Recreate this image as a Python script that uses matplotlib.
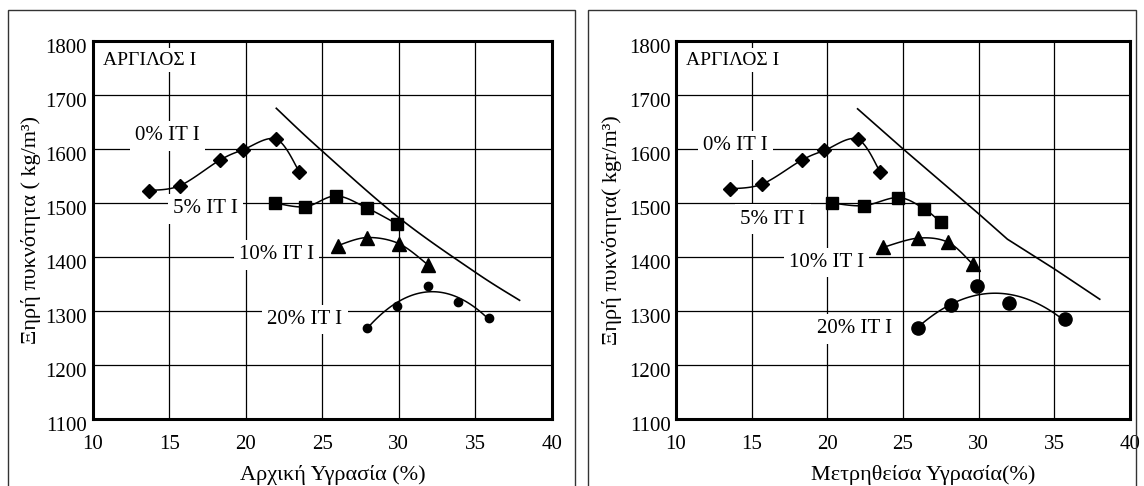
import numpy as np
import matplotlib.pyplot as plt
from matplotlib.patches import Rectangle
from matplotlib.transforms import ScaledTranslation

plt.rcParams['font.family'] = ['Liberation Serif', 'DejaVu Serif']

series_names = ['0% IT I', '5% IT I', '10% IT I', '20% IT I']
series_marks = ['D', 's', '^', 'o']

# initial moisture (%) / dry density (kg/m3)
w_init = [
    [13.7, 15.7, 18.3, 19.8, 22.0, 23.5],
    [21.9, 23.9, 25.9, 27.9, 29.9],
    [26.0, 27.9, 30.0, 31.9],
    [27.9, 29.9, 31.9, 33.9, 35.9],
]
d_init = [
    [1523, 1532, 1579, 1598, 1618, 1558],
    [1500, 1493, 1513, 1491, 1461],
    [1421, 1436, 1425, 1386],
    [1268, 1310, 1347, 1316, 1287],
]
zav_init_w = [22.0, 24.8, 30.0, 35.0, 37.9]
zav_init_d = [1675, 1601, 1473, 1372, 1320]

# measured moisture (%) / dry density (kgr/m3)
w_meas = [
    [13.6, 15.7, 18.3, 19.8, 22.0, 23.5],
    [20.3, 22.4, 24.7, 26.4, 27.5],
    [23.7, 26.0, 28.0, 29.6],
    [26.0, 28.2, 29.9, 32.0, 35.7],
]
d_meas = [
    [1526, 1535, 1579, 1597, 1618, 1557],
    [1500, 1495, 1510, 1489, 1464],
    [1418, 1435, 1427, 1387],
    [1268, 1311, 1347, 1315, 1285],
]
zav_meas_w = [22.0, 25.0, 30.0, 31.9, 35.0, 38.0]
zav_meas_d = [1674, 1600, 1480, 1433, 1378, 1322]

x_ticks = [10, 15, 20, 25, 30, 35, 40]
y_ticks = [1100, 1200, 1300, 1400, 1500, 1600, 1700, 1800]


def smooth(x, y, n=25):
    # bezier smoothing through the points (spreadsheet style)
    p = np.column_stack([x, y]).astype(float)
    p = np.vstack([p[0], p, p[-1]])
    out = [p[1]]
    t = np.linspace(0, 1, n)[1:, None]
    for i in range(1, len(p) - 2):
        p0, p1, p2, p3 = p[i - 1], p[i], p[i + 1], p[i + 2]
        c1 = p1 + (p2 - p0) / 6
        c2 = p2 - (p3 - p1) / 6
        seg = (1 - t)**3 * p1 + 3 * (1 - t)**2 * t * c1 + 3 * (1 - t) * t**2 * c2 + t**3 * p2
        out.extend(seg)
    out = np.array(out)
    return out[:, 0], out[:, 1]


def panel(ax, ws, ds, zw, zd, sizes, label_pos, xlabel, ylabel, xlab_x, ylab_x, zav_smooth):
    ax.set_xlim(10, 40)
    ax.set_ylim(1100, 1800)
    ax.set_xticks(x_ticks)
    ax.set_yticks(y_ticks)
    ax.grid(True, color='black', lw=0.9)
    ax.set_axisbelow(True)
    for s in ax.spines.values():
        s.set_linewidth(2.2)
    ax.tick_params(length=0, labelsize=15)
    ax.tick_params(axis='x', pad=11)
    ax.tick_params(axis='y', pad=4)
    off = ScaledTranslation(0, -3.5 / 72, ax.figure.dpi_scale_trans)
    for lab in ax.get_yticklabels():
        lab.set_transform(lab.get_transform() + off)

    for k in range(4):
        if k < 3:
            cx, cy = smooth(ws[k], ds[k])
        else:
            # 20% series drawn as a 2nd order fit
            c = np.polyfit(ws[k], ds[k], 2)
            cx = np.linspace(min(ws[k]), max(ws[k]), 100)
            cy = np.polyval(c, cx)
        ax.plot(cx, cy, color='black', lw=1.1, zorder=3)
        ax.plot(ws[k], ds[k], series_marks[k], color='black', ms=sizes[k], zorder=4)

    if zav_smooth:
        zx, zy = smooth(zw, zd)
    else:
        zx, zy = zw, zd
    ax.plot(zx, zy, color='black', lw=1.2, zorder=3)

    for k in range(4):
        tx, ty = label_pos[k]
        ax.text(tx, ty, series_names[k], fontsize=15, ha='left', va='center', zorder=5,
                bbox=dict(boxstyle='square,pad=0.25', fc='white', ec='none'))
    ax.text(0.023, 0.949, 'ΑΡΓΙΛΟΣ Ι', transform=ax.transAxes, fontsize=14,
            ha='left', va='center', zorder=5,
            bbox=dict(boxstyle='square,pad=0.2', fc='white', ec='none'))

    ax.set_xlabel(xlabel, fontsize=16, va='top')
    ax.xaxis.set_label_coords(xlab_x, -0.12)
    ax.set_ylabel(ylabel, fontsize=16)
    ax.yaxis.set_label_coords(ylab_x, 0.5)


fig = plt.figure(figsize=(11.44, 4.86), dpi=100)
W, H = 1144.0, 486.0

fig.add_artist(Rectangle((8 / W, -0.1), (575 - 8) / W, 1 - 10 / H + 0.1,
                         transform=fig.transFigure, fill=False, ec='#333333', lw=1))
fig.add_artist(Rectangle((588 / W, -0.1), (1136 - 588) / W, 1 - 10 / H + 0.1,
                         transform=fig.transFigure, fill=False, ec='#333333', lw=1))

ax1 = fig.add_axes([92.7 / W, (H - 419.3) / H, 459 / W, 378.6 / H])
ax2 = fig.add_axes([676 / W, (H - 419.3) / H, 454 / W, 378.6 / H])

panel(ax1, w_init, d_init, zav_init_w, zav_init_d, [7.5, 9.0, 9.5, 6.0],
      [(12.77, 1624), (15.26, 1489), (19.57, 1404), (21.42, 1284)],
      'Αρχική Υγρασία (%)', 'Ξηρή πυκνότητα ( kg/m³)', 0.5235, -0.113, True)
panel(ax2, w_meas, d_meas, zav_meas_w, zav_meas_d, [7.5, 9.0, 9.5, 9.5],
      [(11.77, 1606), (14.26, 1470), (17.46, 1390), (19.34, 1267)],
      'Μετρηθείσα Υγρασία(%)', 'Ξηρή πυκνότητα( kgr/m³)', 0.545, -0.12, False)

fig.savefig('out.png', dpi=100)
